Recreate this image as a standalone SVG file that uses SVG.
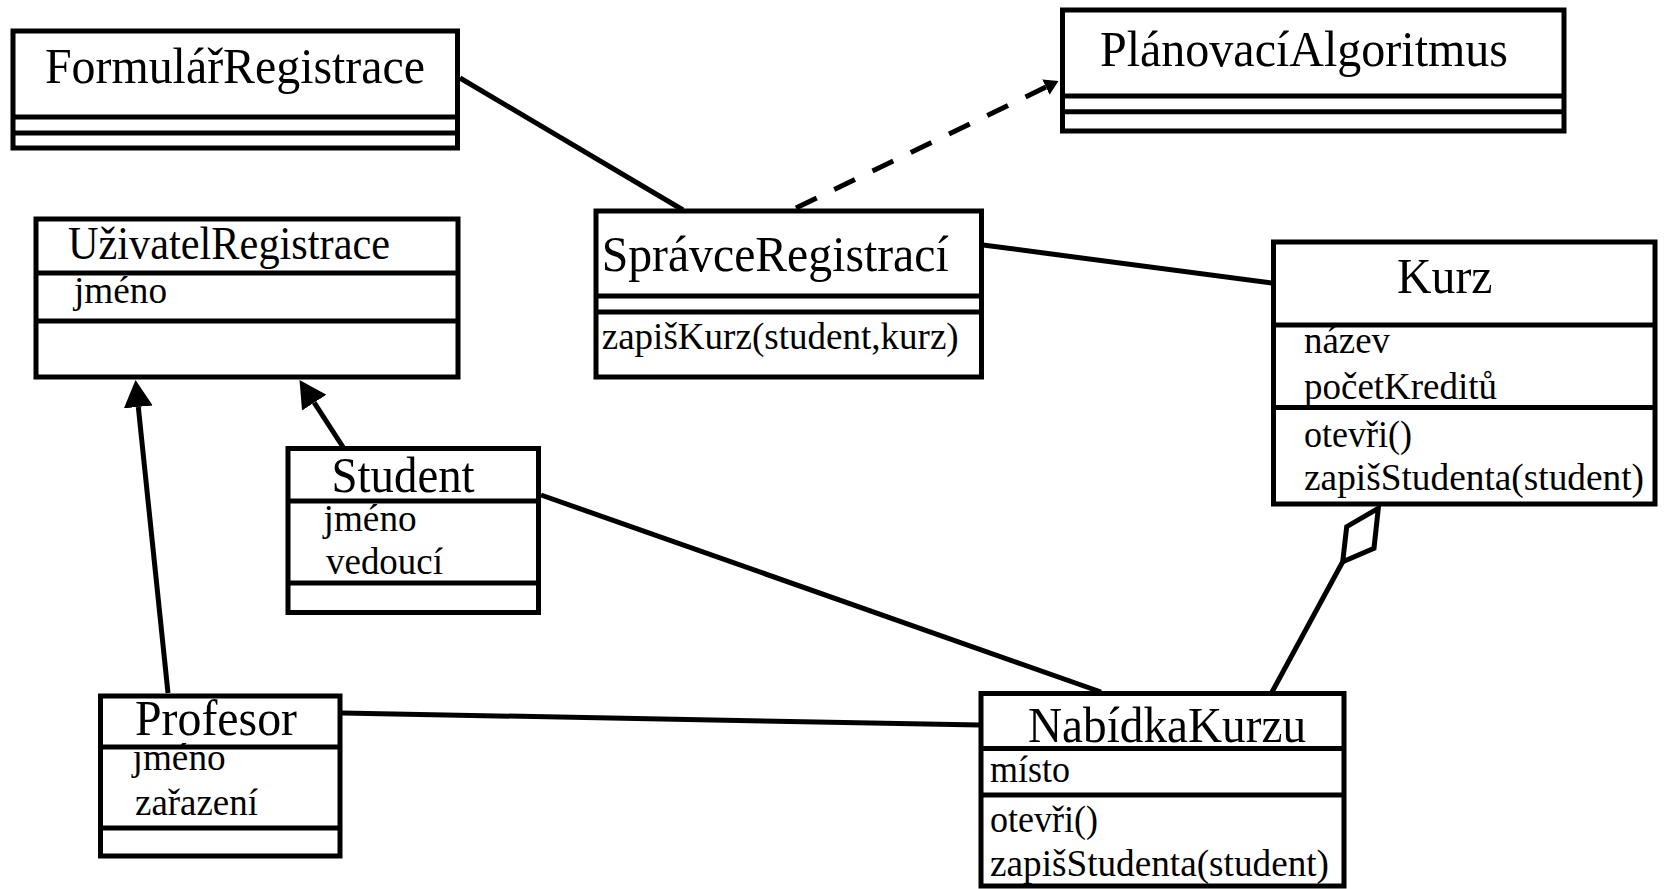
<svg xmlns="http://www.w3.org/2000/svg" width="1664" height="889" viewBox="0 0 1664 889">
<style>
.box{fill:#fff;stroke:#000;stroke-width:5}
.dv{stroke:#000;stroke-width:5}
.t{font-family:"Liberation Serif","Times New Roman",serif;fill:#000}
.title{font-size:51px}
.attr{font-size:38px}
.conn line{stroke:#000;stroke-width:5;fill:none}
.dash{stroke-dasharray:23 19.5}
.diamond{fill:#fff;stroke:#000;stroke-width:5;stroke-linejoin:miter}
</style>
<defs>
<marker id="gen" markerUnits="userSpaceOnUse" markerWidth="27" markerHeight="29" refX="0" refY="14.5" orient="auto"><path d="M0,0 L27,14.5 L0,29 z" fill="#000"/></marker>
<marker id="dep" markerUnits="userSpaceOnUse" markerWidth="14" markerHeight="17" refX="0" refY="8.5" orient="auto"><path d="M0,0 L14,8.5 L0,17 z" fill="#000"/></marker>
</defs>
<rect width="1664" height="889" fill="#fff"/>

<g id="connectors" class="conn">
<line x1="460" y1="78" x2="683" y2="210"/>
<line class="dash" x1="796" y1="208" x2="1045.9" y2="87.1" marker-end="url(#dep)"/>
<line x1="983" y1="245" x2="1272" y2="283"/>
<line x1="168" y1="693" x2="138.3" y2="406.9" marker-end="url(#gen)"/>
<line x1="343" y1="447" x2="314.2" y2="402.6" marker-end="url(#gen)"/>
<line x1="541" y1="495" x2="1101" y2="692"/>
<line x1="342" y1="713" x2="980" y2="725"/>
<line x1="1272" y1="692" x2="1342.7" y2="561.7"/>
<polygon class="diamond" points="1378.3,508.3 1346.7,526.7 1342.7,561.7 1374,548.3"/>
</g>

<g id="FormularRegistrace">
<rect class="box" x="13" y="31" width="444.5" height="117"/>
<line class="dv" x1="13" y1="117" x2="457.5" y2="117"/>
<line class="dv" x1="13" y1="133" x2="457.5" y2="133"/>
<text class="t title" x="45" y="83" textLength="380" lengthAdjust="spacingAndGlyphs">FormulářRegistrace</text>
</g>

<g id="PlanovaciAlgoritmus">
<rect class="box" x="1062.5" y="10" width="501.5" height="121"/>
<line class="dv" x1="1062.5" y1="96" x2="1564" y2="96"/>
<line class="dv" x1="1062.5" y1="111.7" x2="1564" y2="111.7"/>
<text class="t title" x="1100" y="66" textLength="408" lengthAdjust="spacingAndGlyphs">PlánovacíAlgoritmus</text>
</g>

<g id="UzivatelRegistrace">
<rect class="box" x="36" y="219" width="422" height="158"/>
<line class="dv" x1="36" y1="273" x2="458" y2="273"/>
<line class="dv" x1="36" y1="321" x2="458" y2="321"/>
<text class="t" font-size="46" x="68" y="259" textLength="322" lengthAdjust="spacingAndGlyphs">UživatelRegistrace</text>
<text class="t attr" x="74" y="303" textLength="93" lengthAdjust="spacingAndGlyphs">jméno</text>
</g>

<g id="SpravceRegistraci">
<rect class="box" x="596" y="211" width="385.5" height="166"/>
<line class="dv" x1="596" y1="296" x2="981.5" y2="296"/>
<line class="dv" x1="596" y1="312" x2="981.5" y2="312"/>
<text class="t title" x="601.7" y="270.5" textLength="347" lengthAdjust="spacingAndGlyphs">SprávceRegistrací</text>
<text class="t attr" x="601.7" y="348.5" textLength="357" lengthAdjust="spacingAndGlyphs">zapišKurz(student,kurz)</text>
</g>

<g id="Kurz">
<rect class="box" x="1273.5" y="242" width="381.5" height="262"/>
<line class="dv" x1="1273.5" y1="325" x2="1655" y2="325"/>
<line class="dv" x1="1273.5" y1="407.5" x2="1655" y2="407.5"/>
<text class="t title" x="1397" y="293" textLength="95.5" lengthAdjust="spacingAndGlyphs">Kurz</text>
<text class="t attr" x="1304" y="353" textLength="86" lengthAdjust="spacingAndGlyphs">název</text>
<text class="t attr" x="1304" y="399" textLength="193" lengthAdjust="spacingAndGlyphs">početKreditů</text>
<text class="t attr" x="1304" y="447" textLength="108" lengthAdjust="spacingAndGlyphs">otevři()</text>
<text class="t attr" x="1304" y="490" textLength="340" lengthAdjust="spacingAndGlyphs">zapišStudenta(student)</text>
</g>

<g id="Student">
<rect class="box" x="288" y="448.5" width="250.5" height="164"/>
<line class="dv" x1="288" y1="501" x2="538.5" y2="501"/>
<line class="dv" x1="288" y1="583" x2="538.5" y2="583"/>
<text class="t title" x="331.6" y="491.5" textLength="143" lengthAdjust="spacingAndGlyphs">Student</text>
<text class="t attr" x="323.6" y="531" textLength="93" lengthAdjust="spacingAndGlyphs">jméno</text>
<text class="t attr" x="326" y="574" textLength="117" lengthAdjust="spacingAndGlyphs">vedoucí</text>
</g>

<g id="Profesor">
<rect class="box" x="100.5" y="696" width="239.5" height="160"/>
<line class="dv" x1="100.5" y1="747" x2="340" y2="747"/>
<line class="dv" x1="100.5" y1="828" x2="340" y2="828"/>
<text class="t title" x="135" y="735" textLength="162" lengthAdjust="spacingAndGlyphs">Profesor</text>
<text class="t attr" x="132.6" y="770" textLength="93" lengthAdjust="spacingAndGlyphs">jméno</text>
<text class="t attr" x="135" y="815" textLength="123" lengthAdjust="spacingAndGlyphs">zařazení</text>
</g>

<g id="NabidkaKurzu">
<rect class="box" x="981" y="693.5" width="363" height="192.5"/>
<line class="dv" x1="981" y1="748.5" x2="1344" y2="748.5"/>
<line class="dv" x1="981" y1="795" x2="1344" y2="795"/>
<text class="t title" x="1028" y="742" textLength="278" lengthAdjust="spacingAndGlyphs">NabídkaKurzu</text>
<text class="t attr" x="990" y="781.5" textLength="80" lengthAdjust="spacingAndGlyphs">místo</text>
<text class="t attr" x="990" y="832" textLength="108" lengthAdjust="spacingAndGlyphs">otevři()</text>
<text class="t attr" x="990" y="875.5" textLength="339" lengthAdjust="spacingAndGlyphs">zapišStudenta(student)</text>
</g>
</svg>
